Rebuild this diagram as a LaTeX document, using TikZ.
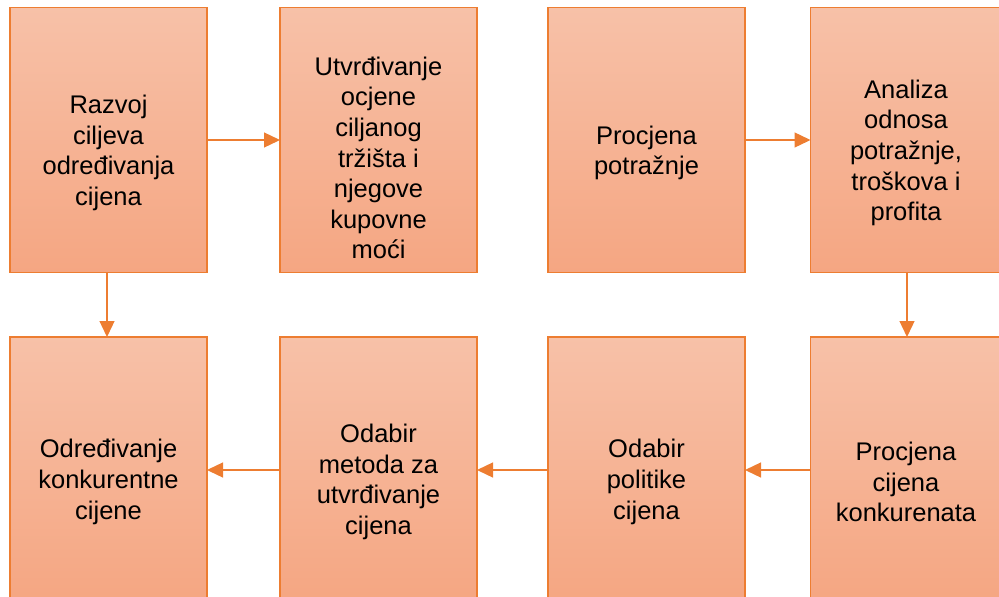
\documentclass[tikz,border=0pt]{standalone}
\usepackage{fontspec}
\setmainfont{Liberation Sans}
\usetikzlibrary{arrows.meta}
\definecolor{boxline}{HTML}{ED7D31}
\definecolor{boxtop}{HTML}{F7C1A8}
\definecolor{boxbot}{HTML}{F5A682}
\begin{document}
\begin{tikzpicture}[x=1pt,y=-1pt,
  stepbox/.style={draw=boxline, line width=1.3pt, top color=boxtop, bottom color=boxbot,
    minimum width=197pt, minimum height=265pt, inner sep=0pt, outer sep=0pt},
  boxtext/.style={align=center, font=\fontsize{25.5}{30.6}\selectfont, text=black, inner sep=0pt},
  flow/.style={draw=boxline, line width=1.3pt, -{Triangle[length=16pt,width=15pt]}}]
\useasboundingbox (0,0) rectangle (999,597);
\clip (0,0) rectangle (999,597);
% top row
\node[stepbox] (b1) at (108.5,140) {};
\node[stepbox] (b2) at (378.5,140) {};
\node[stepbox] (b3) at (646.5,140) {};
\node[stepbox] (b4) at (909,140) {};
% bottom row
\node[stepbox] (b5) at (108.5,469.5) {};
\node[stepbox] (b6) at (378.5,469.5) {};
\node[stepbox] (b7) at (646.5,469.5) {};
\node[stepbox] (b8) at (909,469.5) {};
% texts
\node[boxtext] (t1) at (108.5,153) {Razvoj\\ciljeva\\određivanja\\cijena};
\node[boxtext] (t2) at (378.5,158) {Utvrđivanje\\ocjene\\ciljanog\\tržišta i\\njegove\\kupovne\\moći};
\node[boxtext] (t3) at (646.5,153) {Procjena\\potražnje};
\node[boxtext] (t4) at (906,153) {Analiza\\odnosa\\potražnje,\\troškova i\\profita};
\node[boxtext] (t5) at (108.5,482) {Određivanje\\konkurentne\\cijene};
\node[boxtext] (t6) at (378.5,482) {Odabir\\metoda za\\utvrđivanje\\cijena};
\node[boxtext] (t7) at (646.5,482) {Odabir\\politike\\cijena};
\node[boxtext] (t8) at (906,482) {Procjena\\cijena\\konkurenata};
% connectors
\draw[flow] (b1.east |- 0,140) -- (b2.west |- 0,140);
\draw[flow] (b3.east |- 0,140) -- (b4.west |- 0,140);
\draw[flow] (b4.south -| 907,0) -- (b8.north -| 907,0);
\draw[flow] (b1.south -| 107,0) -- (b5.north -| 107,0);
\draw[flow] (b8.west |- 0,470) -- (b7.east |- 0,470);
\draw[flow] (b7.west |- 0,470) -- (b6.east |- 0,470);
\draw[flow] (b6.west |- 0,470) -- (b5.east |- 0,470);
\end{tikzpicture}
\end{document}
